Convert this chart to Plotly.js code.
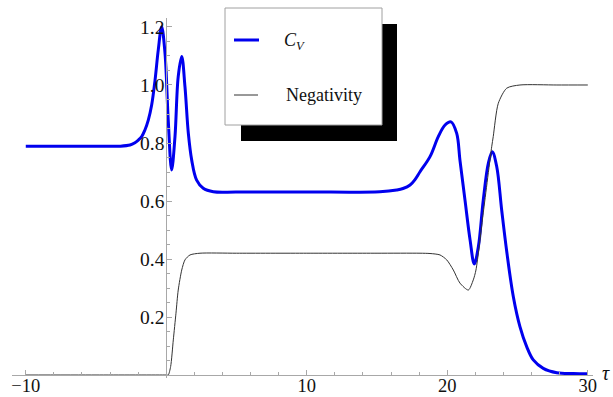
<!DOCTYPE html>
<html>
<head>
<meta charset="utf-8">
<script src="https://cdn.plot.ly/plotly-3.0.1.min.js"></script>
<style>html,body{margin:0;padding:0;background:#fff;}#chart{width:613px;height:397px;}</style>
</head>
<body>
<div id="chart"></div>
<script>
// C_V curve (tau, value)
const cvTau = [-10, -6, -4, -3.3, -2.58, -2.23, -1.99, -1.75, -1.52, -1.28, -1.04, -0.80, -0.57, -0.33, -0.09, 0.14, 0.38, 0.62, 0.85, 1.10, 1.33, 1.57, 1.81, 2.16, 2.63, 3.35, 5, 10, 15.2, 16.4, 16.85, 17.35, 17.7, 18.06, 18.77, 19.36, 19.84, 20.26, 20.67, 20.90, 21.26, 21.62, 21.92, 22.21, 22.56, 22.92, 23.20, 23.52, 23.87, 24.23, 24.70, 25.17, 25.65, 26.12, 26.83, 27.79, 28.97, 30];
const cvVal = [0.789, 0.789, 0.789, 0.789, 0.793, 0.801, 0.810, 0.822, 0.845, 0.879, 0.931, 1.017, 1.121, 1.201, 1.109, 0.879, 0.707, 0.822, 1.029, 1.098, 0.994, 0.833, 0.741, 0.672, 0.644, 0.632, 0.631, 0.631, 0.632, 0.638, 0.643, 0.655, 0.674, 0.701, 0.753, 0.822, 0.862, 0.873, 0.833, 0.741, 0.603, 0.466, 0.383, 0.442, 0.603, 0.730, 0.770, 0.718, 0.569, 0.426, 0.270, 0.167, 0.098, 0.052, 0.023, 0.008, 0.005, 0.004];

// Negativity curve
const negTau = [-10, -5, 0, 0.14, 0.31, 0.50, 0.69, 0.85, 1.10, 1.33, 1.69, 2.40, 5, 10, 15, 18.06, 18.77, 19.48, 19.96, 20.43, 20.90, 21.50, 21.85, 22.04, 22.56, 23.16, 23.27, 23.63, 24.23, 25.17, 27.8, 30];
const negVal = [0, 0, 0, 0, 0.029, 0.121, 0.213, 0.293, 0.362, 0.397, 0.414, 0.42, 0.42, 0.42, 0.42, 0.42, 0.419, 0.414, 0.397, 0.362, 0.317, 0.293, 0.328, 0.362, 0.559, 0.787, 0.822, 0.937, 0.989, 1.0, 1.0, 1.0];

const xTicks = [-10, 10, 20, 30];
const xTickText = ['\u221210', '10', '20', '30'];
const yTicks = [0.2, 0.4, 0.6, 0.8, 1.0, 1.2];
const yTickText = ['0.2', '0.4', '0.6', '0.8', '1.0', '1.2'];
const legendNames = ['<i>C<sub>V</sub></i>', 'Negativity'];
const axisLabel = '<i>\u03c4</i>';

const W = 613, H = 397;
const M = {l: 12, r: 20, t: 18, b: 19};
const xRange = [-10.98, 30.37];
const yRange = [-0.0103, 1.231];
const PW = W - M.l - M.r, PH = H - M.t - M.b;
const px = v => (v - M.l) / PW;
const py = v => 1 - (v - M.t) / PH;

const font = 'Liberation Serif, Times New Roman, serif';
const axisColor = '#a8a8a8';
const blue = '#0000ee';

const traces = [
  {x: cvTau, y: cvVal, type: 'scatter', mode: 'lines', name: 'CV',
   line: {color: blue, width: 3, shape: 'spline', smoothing: 1.0}, showlegend: false},
  {x: negTau, y: negVal, type: 'scatter', mode: 'lines', name: 'Negativity',
   line: {color: '#333333', width: 1, shape: 'spline', smoothing: 0.7}, showlegend: false}
];

const shapes = [
  {type: 'rect', xref: 'paper', yref: 'paper', x0: px(241), x1: px(397), y0: py(24), y1: py(141),
   fillcolor: '#000', line: {width: 0}, layer: 'above'},
  {type: 'rect', xref: 'paper', yref: 'paper', x0: px(225), x1: px(382), y0: py(8), y1: py(125),
   fillcolor: '#fff', line: {color: '#a0a0a0', width: 1}, layer: 'above'},
  {type: 'line', xref: 'paper', yref: 'paper', x0: px(234), x1: px(259), y0: py(40), y1: py(40),
   line: {color: blue, width: 3}, layer: 'above'},
  {type: 'line', xref: 'paper', yref: 'paper', x0: px(234), x1: px(258), y0: py(95), y1: py(95),
   line: {color: '#333', width: 1}, layer: 'above'}
];

const annotations = [
  {xref: 'paper', yref: 'paper', x: px(282), y: py(42), xanchor: 'left', yanchor: 'middle',
   text: legendNames[0], showarrow: false, font: {family: font, size: 18, color: '#111'}},
  {xref: 'paper', yref: 'paper', x: px(284), y: py(95), xanchor: 'left', yanchor: 'middle',
   text: legendNames[1], showarrow: false, font: {family: font, size: 18, color: '#111'}},
  {xref: 'paper', yref: 'paper', x: px(606), y: py(373), xanchor: 'center', yanchor: 'middle',
   text: axisLabel, showarrow: false, font: {family: font, size: 20, color: '#111'}}
];

const layout = {
  width: W, height: H,
  margin: M,
  paper_bgcolor: '#fff', plot_bgcolor: '#fff',
  showlegend: false,
  xaxis: {
    range: xRange, showgrid: false, zeroline: false,
    anchor: 'free', position: (0 - yRange[0]) / (yRange[1] - yRange[0]),
    showline: true, linecolor: axisColor, linewidth: 1,
    tickvals: xTicks, ticktext: xTickText,
    ticks: 'inside', ticklen: 5, tickcolor: axisColor, tickwidth: 1,
    ticklabelstandoff: -6,
    minor: {dtick: 2, tick0: 0, ticks: 'inside', ticklen: 3, tickcolor: axisColor, showgrid: false},
    tickfont: {family: font, size: 18.5, color: '#111'}
  },
  yaxis: {
    range: yRange, showgrid: false, zeroline: false,
    anchor: 'free', position: (0 - xRange[0]) / (xRange[1] - xRange[0]),
    showline: true, linecolor: axisColor, linewidth: 1,
    tickvals: yTicks, ticktext: yTickText,
    ticks: 'inside', ticklen: 5, tickcolor: axisColor, tickwidth: 1,
    ticklabelstandoff: -2,
    minor: {dtick: 0.05, tick0: 0, ticks: 'inside', ticklen: 3, tickcolor: axisColor, showgrid: false},
    tickfont: {family: font, size: 19.5, color: '#111'}
  },
  shapes: shapes,
  annotations: annotations
};

Plotly.newPlot('chart', traces, layout, {staticPlot: true, displayModeBar: false});
</script>
</body>
</html>
